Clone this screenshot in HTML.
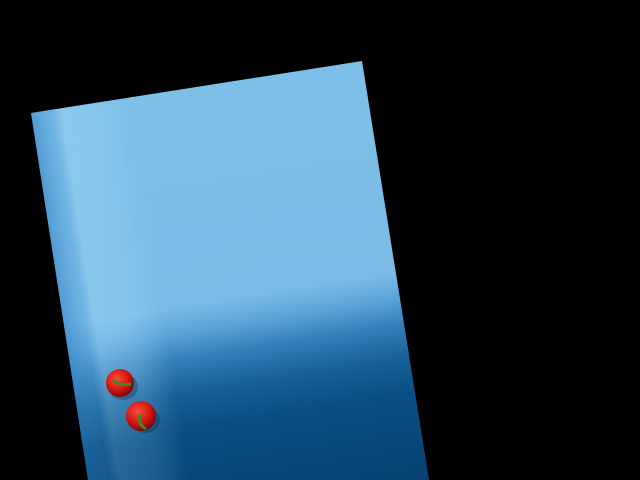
<!DOCTYPE html>
<html><head><meta charset="utf-8"><style>html,body{margin:0;padding:0;background:#000;width:640px;height:480px;overflow:hidden}svg{display:block}</style></head>
<body>
<svg width="640" height="480" viewBox="0 0 640 480" xmlns="http://www.w3.org/2000/svg">
<defs>
<linearGradient id="vg" gradientUnits="userSpaceOnUse" x1="0" y1="0" x2="0" y2="430" gradientTransform="translate(31,113) rotate(-8.95)">
<stop offset="0" stop-color="#7ebfe7"/>
<stop offset="0.5" stop-color="#7abbe5"/>
<stop offset="0.56" stop-color="#5aa3d8"/>
<stop offset="0.62" stop-color="#3580bb"/>
<stop offset="0.7" stop-color="#165f98"/>
<stop offset="0.78" stop-color="#0a4f85"/>
<stop offset="1" stop-color="#05416f"/>
</linearGradient>
<linearGradient id="band" gradientUnits="userSpaceOnUse" x1="0" y1="0" x2="336" y2="0" gradientTransform="translate(31,113) rotate(-8.95)">
<stop offset="0" stop-color="#3f8ccb" stop-opacity="0.7"/>
<stop offset="0.06" stop-color="#5aa4da" stop-opacity="0.4"/>
<stop offset="0.09" stop-color="#9ad2f2" stop-opacity="0.5"/>
<stop offset="0.2" stop-color="#9ad2f2" stop-opacity="0.35"/>
<stop offset="0.3" stop-color="#9ad2f2" stop-opacity="0"/>
<stop offset="1" stop-color="#9ad2f2" stop-opacity="0"/>
</linearGradient>
<linearGradient id="fade" gradientUnits="userSpaceOnUse" x1="0" y1="0" x2="0" y2="430" gradientTransform="translate(31,113) rotate(-8.95)">
<stop offset="0" stop-color="#fff"/>
<stop offset="0.55" stop-color="#fff"/>
<stop offset="0.8" stop-color="#777"/>
<stop offset="1" stop-color="#555"/>
</linearGradient>
<mask id="m" maskUnits="userSpaceOnUse" x="0" y="0" width="640" height="480"><rect x="0" y="0" width="640" height="480" fill="url(#fade)"/></mask>
<radialGradient id="pep" cx="0.4" cy="0.35" r="0.7">
<stop offset="0" stop-color="#ff4a3a"/><stop offset="0.6" stop-color="#d0150f"/><stop offset="1" stop-color="#6a0505"/>
</radialGradient>
</defs>
<g>
<polygon points="31,113 362,61 429,480 88,480" fill="url(#vg)"/>
<polygon points="31,113 362,61 429,480 88,480" fill="url(#band)" mask="url(#m)"/>
</g>
<g>
<ellipse cx="123" cy="387" rx="15" ry="13" fill="#0a2a48" opacity="0.35"/>
<circle cx="120" cy="383" r="14" fill="url(#pep)"/>
<path d="M113 380 Q120 386 131 384" stroke="#3c8a2a" stroke-width="3" fill="none"/>
</g>
<g>
<ellipse cx="145" cy="420" rx="15" ry="13" fill="#0a2a48" opacity="0.35"/>
<circle cx="141" cy="416" r="15" fill="url(#pep)"/>
<path d="M140 414 Q137 424 146 429" stroke="#3c8a2a" stroke-width="3" fill="none"/>
</g>
</svg>
</body></html>
